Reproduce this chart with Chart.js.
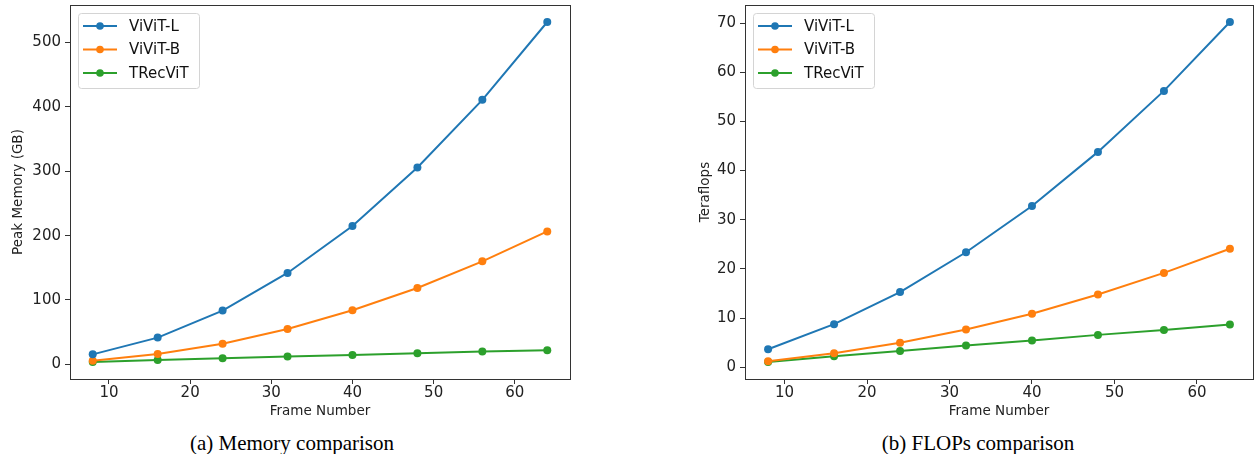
<!DOCTYPE html>
<html>
<head>
<meta charset="utf-8">
<script src="https://cdn.jsdelivr.net/npm/chart.js@4.4.1/dist/chart.umd.min.js"></script>
<style>
  html, body { margin: 0; padding: 0; background: #fff; }
  body { width: 1257px; height: 454px; position: relative; overflow: hidden; }
  .panel { position: absolute; top: 0; height: 425px; }
  .caption {
    position: absolute; top: 430px; width: 400px;
    font-family: "Liberation Serif", "Times New Roman", serif;
    font-size: 21px; line-height: 26px; color: #000; text-align: center;
  }
</style>
</head>
<body>
<div class="panel" style="left:0;width:580px"><canvas id="memChart"></canvas></div>
<div class="panel" style="left:675px;width:582px"><canvas id="flopsChart"></canvas></div>
<div class="caption" style="left:92px">(a) Memory comparison</div>
<div class="caption" style="left:778px">(b) FLOPs comparison</div>

<script>
// ---------- données ----------
const frames = [8, 16, 24, 32, 40, 48, 56, 64];
const seriesNames = ["ViViT-L", "ViViT-B", "TRecViT"];
const seriesColors = ["#1f77b4", "#ff7f0e", "#2ca02c"];

// mémoire maximale (GB)
const memViViTL = [15.5, 41.5, 83.5, 142, 215, 306, 411, 532];
const memViViTB = [5.7, 16, 32, 55, 84, 118.6, 160, 206.6];
const memTRecViT = [3.6, 6.8, 9.4, 12, 14.6, 17.2, 19.8, 21.9];

// teraflops
const flopsViViTL = [3.67, 8.77, 15.3, 23.4, 32.8, 43.8, 56.2, 70.2];
const flopsViViTB = [1.22, 2.86, 5.0, 7.7, 10.9, 14.8, 19.2, 24.1];
const flopsTRecViT = [1.09, 2.24, 3.33, 4.42, 5.44, 6.6, 7.6, 8.7];

const memTicks = [0, 100, 200, 300, 400, 500];
const flopsTicks = [0, 10, 20, 30, 40, 50, 60, 70];
const frameTicks = [10, 20, 30, 40, 50, 60];

Chart.defaults.font.family = "'DejaVu Sans', sans-serif";
Chart.defaults.color = "#222";

// ---------- cadre + légende façon matplotlib ----------
const axesFrame = {
  id: "axesFrame",
  afterDatasetsDraw(chart) {
    const { ctx, chartArea: a } = chart;
    ctx.save();
    ctx.strokeStyle = "#333";
    ctx.lineWidth = 1;
    ctx.strokeRect(Math.round(a.left) + 0.5, Math.round(a.top) + 0.5,
      Math.round(a.right - a.left), Math.round(a.bottom - a.top));
    ctx.restore();
  }
};

const boxLegend = {
  id: "boxLegend",
  afterDraw(chart) {
    const { ctx, chartArea: a } = chart;
    const x0 = Math.round(a.left) + 8, y0 = Math.round(a.top) + 8;
    ctx.save();
    ctx.fillStyle = "rgba(255,255,255,0.8)";
    ctx.strokeStyle = "#d4d4d4";
    ctx.lineWidth = 1;
    ctx.beginPath();
    ctx.roundRect(x0 + 0.5, y0 + 0.5, 121, 75, 3);
    ctx.fill();
    ctx.stroke();
    ctx.font = "15px 'DejaVu Sans'";
    ctx.textBaseline = "middle";
    chart.data.datasets.forEach((ds, i) => {
      const y = y0 + 13 + i * 23.5;
      ctx.strokeStyle = ds.borderColor;
      ctx.lineWidth = 2;
      ctx.beginPath();
      ctx.moveTo(x0 + 5, y);
      ctx.lineTo(x0 + 39, y);
      ctx.stroke();
      ctx.fillStyle = ds.borderColor;
      ctx.beginPath();
      ctx.arc(x0 + 22, y, 3.8, 0, Math.PI * 2);
      ctx.fill();
      ctx.fillStyle = "#111";
      ctx.fillText(ds.label, x0 + 51, y + 1);
    });
    ctx.restore();
  }
};

function makeChart(id, seriesList, yTitle, yTicks, yMin, yMax, titlePad, rightPad) {
  const datasets = seriesList.map((vals, i) => ({
    label: seriesNames[i],
    data: frames.map((f, j) => ({ x: f, y: vals[j] })),
    borderColor: seriesColors[i],
    backgroundColor: seriesColors[i],
    borderWidth: 2,
    pointRadius: 4,
    pointHoverRadius: 4,
    pointBorderWidth: 0,
    tension: 0,
  }));

  const tickGrid = {
    display: true,
    drawOnChartArea: false,
    drawTicks: true,
    tickLength: 5,
    color: "#333",
  };

  return new Chart(document.getElementById(id), {
    type: "line",
    data: { datasets },
    options: {
      responsive: true,
      maintainAspectRatio: false,
      animation: false,
      layout: { padding: { top: 5, right: rightPad, left: 0, bottom: 0 } },
      plugins: { legend: { display: false }, tooltip: { enabled: false } },
      scales: {
        x: {
          type: "linear",
          min: 5.2,
          max: 66.8,
          afterFit: (s) => { s.height = 46; s.paddingLeft = 0; s.paddingRight = 0; },
          afterBuildTicks: (s) => { s.ticks = frameTicks.map((v) => ({ value: v })); },
          ticks: { font: { size: 15 }, padding: 0, maxRotation: 0, color: "#222" },
          grid: tickGrid,
          border: { display: false },
          title: { display: true, text: "Frame Number", font: { size: 13.5 }, color: "#222", padding: { top: 0, bottom: 5 } },
        },
        y: {
          type: "linear",
          min: yMin,
          max: yMax,
          afterFit: (s) => { s.width = 70; s.paddingTop = 0; s.paddingBottom = 0; },
          afterBuildTicks: (s) => { s.ticks = yTicks.map((v) => ({ value: v })); },
          ticks: { font: { size: 15 }, padding: 4, color: "#222" },
          grid: tickGrid,
          border: { display: false },
          title: { display: true, text: yTitle, font: { size: 13.5 }, color: "#222", padding: { top: titlePad, bottom: 0 } },
        },
      },
    },
    plugins: [axesFrame, boxLegend],
  });
}

makeChart("memChart", [memViViTL, memViViTB, memTRecViT], "Peak Memory (GB)", memTicks, -22.8, 558.4, 10, 10);
makeChart("flopsChart", [flopsViViTL, flopsViViTB, flopsTRecViT], "Teraflops", flopsTicks, -2.37, 73.66, 22, 1);
</script>
</body>
</html>
